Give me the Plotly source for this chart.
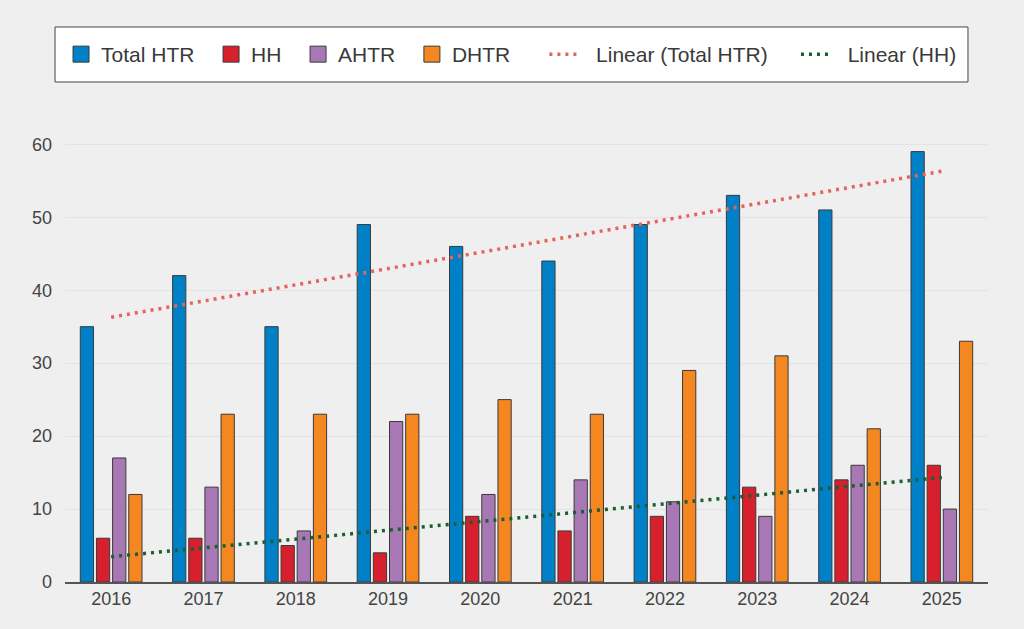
import numpy as np
import plotly.graph_objects as go

years = ["2016", "2017", "2018", "2019", "2020", "2021", "2022", "2023", "2024", "2025"]
total_htr = [35, 42, 35, 49, 46, 44, 49, 53, 51, 59]
hh = [6, 6, 5, 4, 9, 7, 9, 13, 14, 16]
ahtr = [17, 13, 7, 22, 12, 14, 11, 9, 16, 10]
dhtr = [12, 23, 23, 23, 25, 23, 29, 31, 21, 33]

NB = "\u00a0"

def linear_fit(vals):
    x = np.arange(len(vals))
    k, b = np.polyfit(x, vals, 1)
    return list(k * x + b)

outline = dict(color="#3a3a3a", width=1)
fig = go.Figure()
bar_series = [("Total HTR", total_htr, "#0080c6", 2),
              ("HH", hh, "#d7202e", 2),
              ("AHTR", ahtr, "#a878b4", 2),
              ("DHTR", dhtr, "#f58720", 5)]
for name, vals, col, pad in bar_series:
    fig.add_trace(go.Bar(name=name, x=years, y=vals, legendgroup=name, showlegend=False,
                         marker=dict(color=col, line=outline)))
for name, vals, col, pad in bar_series:
    # legend entry (larger square symbol)
    fig.add_trace(go.Scatter(name=name + NB * pad, x=[None], y=[None], mode="markers",
                             legendgroup=name, hoverinfo="skip",
                             marker=dict(symbol="square", size=16, color=col, line=outline)))

fig.add_trace(go.Scatter(name=NB * 2 + "Linear (Total HTR)" + NB * 4, x=years,
                         y=linear_fit(total_htr), mode="lines",
                         line=dict(color="#e8615a", width=3.5, dash="3px,5px")))
fig.add_trace(go.Scatter(name=NB * 2 + "Linear (HH)", x=years, y=linear_fit(hh),
                         mode="lines", line=dict(color="#1b5e33", width=3.5, dash="3px,5px")))

fig.update_layout(
    width=1024, height=629,
    margin=dict(l=65, r=36, t=137, b=47),
    paper_bgcolor="#efefef", plot_bgcolor="#efefef",
    font=dict(family="Liberation Sans, Arial, sans-serif", color="#444444", size=18),
    barmode="group", bargap=0.3, bargroupgap=0.18,
    showlegend=True,
    legend=dict(orientation="h", x=-0.0043, xanchor="left", y=1.1854, yanchor="middle",
                bgcolor="rgba(0,0,0,0)", borderwidth=0,
                font=dict(size=21, color="#3a3a3a"), traceorder="normal",
                itemwidth=30, itemclick=False, itemdoubleclick=False),
    shapes=[dict(type="rect", xref="paper", yref="paper",
                 x0=-0.0108, x1=0.9783, y0=1.1236, y1=1.2472,
                 fillcolor="#ffffff", line=dict(color="#444444", width=1), layer="below")],
    xaxis=dict(showline=True, linecolor="#555555", linewidth=1.5, ticks="",
               tickfont=dict(size=18, color="#444444")),
    yaxis=dict(range=[0, 61], dtick=10, showgrid=True, gridcolor="#e3e3e3",
               zeroline=False, showline=False, ticks="", ticklabelstandoff=12,
               tickfont=dict(size=18, color="#444444")),
)

fig.write_html("out.html")
